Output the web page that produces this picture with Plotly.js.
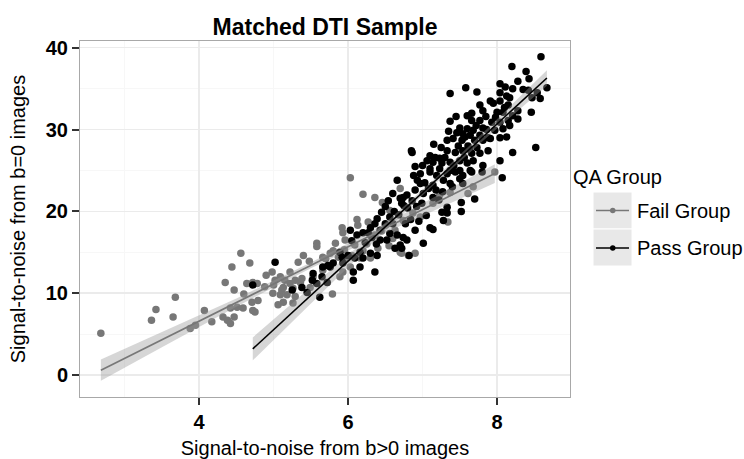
<!DOCTYPE html>
<html>
<head>
<meta charset="utf-8">
<script src="https://cdn.plot.ly/plotly-3.0.1.min.js"></script>
<style>html,body{margin:0;padding:0;background:#fff;}#chart{width:744px;height:459px;}</style>
</head>
<body>
<div id="chart"></div>
<script>
// ---- Data ----
const failX = [2.68,3.36,3.42,3.65,3.68,3.88,3.95,4.07,4.17,4.35,4.44,4.56,4.68,4.47,4.60,4.32,4.38,4.42,4.47,4.42,
  4.51,4.64,4.72,4.78,4.71,4.72,4.75,4.79,4.98,5.02,5.09,4.99,5.09,5.13,5.11,4.59,5.58,5.33,5.36,5.22,
  5.06,5.26,6.03,6.20,6.36,6.46,6.12,6.13,5.92,5.93,6.27,5.58,5.83,5.96,5.80,5.76,5.66,5.48,5.22,5.29,
  5.38,5.15,5.13,5.26,5.18,5.29,5.49,5.53,5.66,5.79,5.89,5.93,6.03,6.16,6.30,6.40,6.20,6.05,6.09,5.87,
  5.99,6.60,6.70,6.81,7.68,7.61,7.37,7.23,7.14,6.97,6.87,6.74,7.34,6.90,6.72,6.70,7.97,6.50,6.56,6.36,6.63,
  4.88,4.90,5.40,5.70,5.95,6.25,6.55,6.45,5.00];
const failY = [5.1,6.7,8.0,7.1,9.5,5.7,6.1,7.9,6.5,11.3,13.2,14.9,13.7,10.4,9.9,7.1,6.7,6.3,7.1,8.2,
  8.3,11.2,11.3,11.2,8.9,7.9,7.7,9.1,12.6,11.6,12.0,10.0,9.8,8.9,10.4,8.2,16.1,13.8,11.3,11.2,
  8.6,8.8,24.1,22.1,21.7,21.1,19.0,18.3,18.0,17.4,18.7,15.7,16.1,16.5,15.2,14.9,14.4,13.9,12.6,11.6,
  11.8,11.6,10.7,10.6,9.8,9.6,10.7,12.0,12.8,9.9,12.0,12.6,13.2,14.3,14.3,15.5,15.2,14.6,15.9,14.4,
  14.3,16.7,15.0,14.6,23.0,22.2,22.3,22.0,21.0,19.3,19.8,18.9,18.7,14.9,14.9,22.8,24.8,18.3,20.1,17.1,17.7,
  10.8,12.2,14.6,14.2,15.3,16.0,15.8,17.6,11.0];

const passX = [8.59,8.20,8.39,8.43,8.28,8.67,8.04,8.04,8.21,8.35,8.42,8.54,8.47,8.58,8.13,8.17,7.37,7.58,7.73,7.77,
  7.91,7.95,8.04,8.15,8.28,8.46,8.21,8.08,8.00,7.81,7.66,7.60,7.37,7.66,7.77,7.93,8.04,8.15,8.28,7.50,
  7.60,7.68,7.81,7.97,8.08,8.17,7.46,7.54,7.64,7.77,7.88,8.04,8.13,7.41,7.53,7.70,7.81,7.91,7.33,7.48,
  7.61,7.73,8.52,8.21,6.85,7.33,7.44,7.54,7.66,7.77,7.88,8.04,7.10,7.17,7.23,7.30,7.14,7.26,7.37,7.50,
  7.60,7.68,7.06,6.97,7.10,7.23,7.37,7.50,7.64,7.81,8.07,7.10,7.19,7.33,7.44,7.54,7.66,7.80,6.93,7.03,
  7.14,7.28,7.37,7.50,7.54,6.79,6.90,7.01,7.14,6.72,6.86,6.99,7.52,7.70,7.33,7.26,7.33,7.52,7.28,6.77,
  7.10,7.14,6.90,6.74,6.79,6.70,7.01,6.72,6.82,6.66,6.60,6.70,6.54,6.75,6.39,6.36,6.56,6.60,6.50,6.43,
  6.56,6.66,6.63,6.20,6.27,6.12,6.03,6.32,6.43,6.52,6.23,6.16,6.30,6.39,6.20,6.09,6.00,5.89,5.92,5.80,
  5.76,5.93,6.16,6.07,6.07,6.36,5.66,5.65,5.53,5.52,5.58,5.72,5.38,5.25,5.45,5.62,6.86,5.02,4.72,5.73,
  6.97,6.74,
  6.62,6.68,6.80,6.84,6.92,6.95,7.05,7.08,7.18,7.22,7.27,7.40,7.42,7.56,7.57,7.63,7.72,7.85,7.86,7.98,
  8.10,8.11,7.45,7.25,7.00,6.88,6.50,6.45,6.30,6.05,6.38,6.90,7.15,7.35];
const passY = [38.9,37.7,37.1,36.2,35.9,35.1,35.6,34.5,35.0,34.9,34.8,34.5,33.9,33.8,34.1,33.9,34.4,35.1,34.6,33.0,
  33.5,33.2,33.5,33.0,32.3,32.1,31.7,32.1,32.1,32.3,32.0,31.7,31.0,31.1,31.1,30.9,30.9,31.1,31.3,30.2,
  30.1,29.9,30.2,29.9,30.1,30.5,29.6,29.5,29.3,29.3,29.0,29.0,29.1,28.9,28.7,28.7,28.7,28.9,28.7,28.0,
  28.0,27.8,27.8,27.2,27.4,27.4,27.2,27.4,27.1,27.1,27.4,26.2,26.8,26.6,26.5,26.6,26.0,25.9,26.0,26.2,
  25.9,26.2,26.2,24.6,25.2,25.2,25.0,25.0,25.0,25.6,24.1,24.8,24.4,24.6,24.8,24.4,24.8,24.8,23.8,23.5,
  23.2,23.8,23.4,24.0,23.4,22.0,22.6,22.2,21.7,21.0,21.3,21.0,21.1,21.5,20.5,19.9,19.8,20.0,18.9,18.5,
  18.0,17.8,17.7,16.8,16.5,15.9,16.1,15.5,14.6,23.8,22.2,21.6,21.3,20.7,19.1,18.5,19.3,18.5,18.5,17.7,
  17.3,17.1,15.5,17.4,17.4,17.1,17.7,16.8,16.5,16.5,16.2,15.0,14.9,14.6,14.3,14.3,14.6,15.0,14.4,13.7,
  13.2,13.7,13.2,12.6,11.6,12.6,13.2,12.0,12.4,11.6,11.2,11.3,10.7,10.4,10.1,9.5,27.2,13.8,11.0,13.4,
  23.4,21.7,
  20.0,19.6,20.4,19.0,20.6,18.8,19.5,22.8,22.6,21.4,22.4,23.0,25.6,26.6,29.1,27.6,30.5,31.6,30.0,31.5,
  32.7,35.2,31.6,27.8,25.6,24.4,20.6,19.9,18.0,16.4,16.0,25.5,28.2,29.8];

// Linear fits with confidence bands
const failFitX  = [2.68, 3.5, 4.5, 5.5, 6.5, 7.3, 7.97];
const failFitY  = [0.60, 4.32, 8.86, 13.40, 17.94, 21.57, 24.62];
const failFitLo = [-0.70, 3.41, 8.36, 13.05, 17.38, 20.69, 23.47];
const failFitHi = [1.90, 5.23, 9.36, 13.75, 18.50, 22.45, 25.77];

const passFitX  = [4.72, 5.5, 6.3, 7.1, 7.9, 8.67];
const passFitY  = [3.20, 9.74, 16.44, 23.14, 29.85, 36.30];
const passFitLo = [1.80, 8.78, 15.86, 22.84, 29.32, 35.35];
const passFitHi = [4.60, 10.70, 17.02, 23.44, 30.38, 37.25];

const xTicks = [4, 6, 8];
const yTicks = [0, 10, 20, 30, 40];
const groups = ['Fail Group', 'Pass Group'];
const titleText = 'Matched DTI Sample';
const xTitle = 'Signal-to-noise from b>0 images';
const yTitle = 'Signal-to-noise from b=0 images';
const legendTitle = 'QA Group';

// ---- Styles ----
const FONT = 'Liberation Sans, Arial, Helvetica, sans-serif';
const failColor = '#777777';
const passColor = '#000000';
const bandFill = 'rgba(153,153,153,0.4)';

function band(x, lo, hi) {
  return {
    x: x.concat(x.slice().reverse()),
    y: hi.concat(lo.slice().reverse()),
    type: 'scatter', mode: 'lines', fill: 'toself', fillcolor: bandFill,
    line: {width: 0}, hoverinfo: 'skip', showlegend: false
  };
}

const traces = [
  {x: failX, y: failY, type: 'scatter', mode: 'markers', name: groups[0], showlegend: false,
   marker: {color: failColor, size: 7.5, line: {width: 0}}},
  {x: passX, y: passY, type: 'scatter', mode: 'markers', name: groups[1], showlegend: false,
   marker: {color: passColor, size: 7.5, line: {width: 0}}},
  band(failFitX, failFitLo, failFitHi),
  {x: failFitX, y: failFitY, type: 'scatter', mode: 'lines', showlegend: false,
   line: {color: failColor, width: 1.6}},
  band(passFitX, passFitLo, passFitHi),
  {x: passFitX, y: passFitY, type: 'scatter', mode: 'lines', showlegend: false,
   line: {color: passColor, width: 1.6}}
];

// panel geometry in pixels (for placing the hand-built legend)
const PL = 80, PR = 570, PT = 41, PB = 397;
const px = v => (v - PL) / (PR - PL);
const py = v => (PB - v) / (PB - PT);

const legendItems = [
  {label: groups[0], color: failColor, cy: 210.5, top: 192, bot: 229},
  {label: groups[1], color: passColor, cy: 248, top: 229, bot: 266}
];
const shapes = [];
const annotations = [{
  text: legendTitle, xref: 'paper', yref: 'paper', x: px(571), y: py(177),
  xanchor: 'left', yanchor: 'middle', showarrow: false,
  font: {family: FONT, size: 20, color: '#000'}
}];
legendItems.forEach(it => {
  shapes.push({type: 'rect', xref: 'paper', yref: 'paper', x0: px(593), x1: px(632),
    y0: py(it.bot), y1: py(it.top), fillcolor: '#e8e8e8', line: {color: '#ffffff', width: 1}});
  shapes.push({type: 'line', xref: 'paper', yref: 'paper', x0: px(596), x1: px(629),
    y0: py(it.cy), y1: py(it.cy), line: {color: it.color, width: 1.6}});
  shapes.push({type: 'circle', xref: 'paper', yref: 'paper', x0: px(610), x1: px(615.5),
    y0: py(it.cy + 2.75), y1: py(it.cy - 2.75), fillcolor: it.color, line: {width: 0}});
  annotations.push({text: it.label, xref: 'paper', yref: 'paper', x: px(635), y: py(it.cy),
    xanchor: 'left', yanchor: 'middle', showarrow: false,
    font: {family: FONT, size: 20, color: '#000'}});
});

const axisCommon = {
  showline: true, mirror: true, linecolor: '#a8a8a8', linewidth: 1,
  showgrid: true, gridcolor: '#ebebeb', gridwidth: 1.5,
  zeroline: false, ticks: 'outside', ticklen: 7, tickwidth: 2, tickcolor: '#333333',
  tickfont: {family: FONT, size: 20, color: '#000', weight: 'bold'},
  tickmode: 'array'
};

const layout = {
  width: 744, height: 459,
  margin: {l: PL, r: 744 - PR, t: PT, b: 459 - PB, pad: 0},
  paper_bgcolor: '#ffffff', plot_bgcolor: '#ffffff',
  font: {family: FONT, color: '#000'},
  showlegend: false,
  title: {text: titleText, x: 0.5, xref: 'paper', xanchor: 'center', y: 1 - 27 / 459, yref: 'container',
    yanchor: 'middle', font: {family: FONT, size: 23, color: '#000', weight: 'bold'}},
  xaxis: Object.assign({}, axisCommon, {
    range: [2.40, 8.98], tickvals: xTicks, ticktext: xTicks.map(String),
    minor: {dtick: 1, tick0: 0, showgrid: true, gridcolor: '#f7f7f7', gridwidth: 1, ticks: ''},
    title: {text: xTitle, standoff: 10, font: {family: FONT, size: 20, color: '#000'}}
  }),
  yaxis: Object.assign({}, axisCommon, {
    range: [-2.68, 40.82], tickvals: yTicks, ticktext: yTicks.map(String),
    minor: {dtick: 5, tick0: 0, showgrid: true, gridcolor: '#f7f7f7', gridwidth: 1, ticks: ''},
    title: {text: yTitle, standoff: 14, font: {family: FONT, size: 20, color: '#000'}}
  }),
  shapes: shapes,
  annotations: annotations
};

Plotly.newPlot('chart', traces, layout, {displayModeBar: false, staticPlot: true});
</script>
</body>
</html>
